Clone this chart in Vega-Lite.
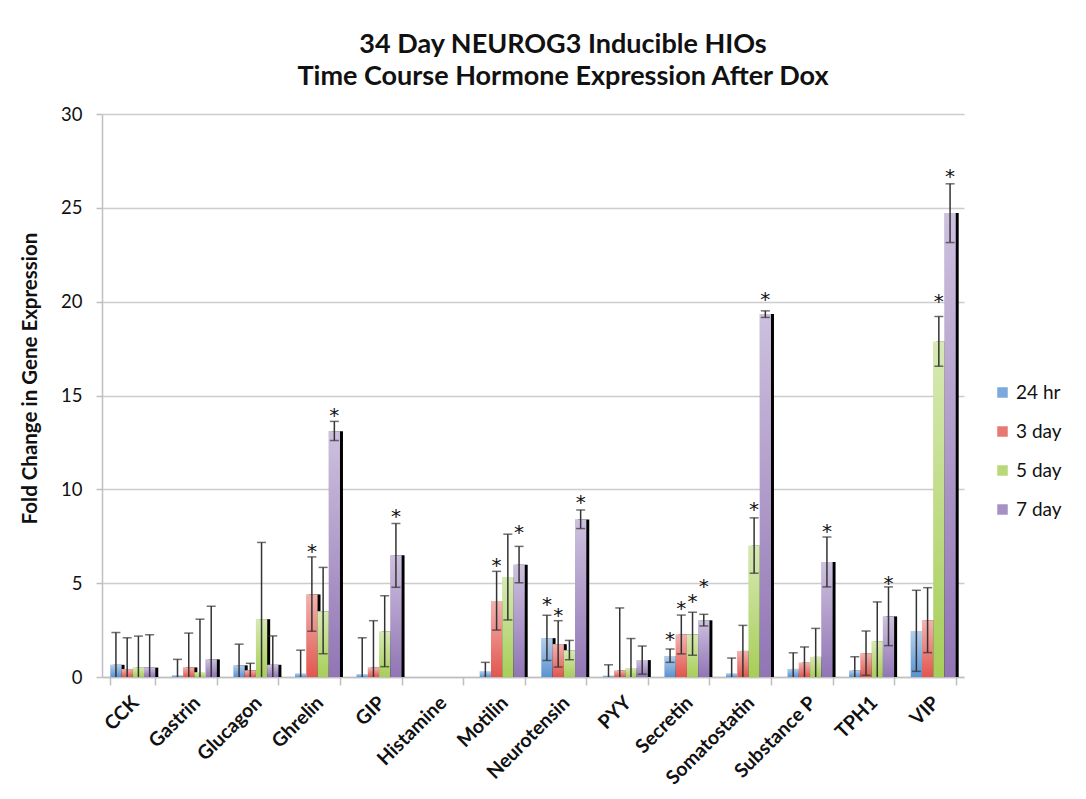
{
  "$schema": "https://vega.github.io/schema/vega-lite/v6.json",
  "width": 862,
  "height": 563,
  "autosize": {"type": "none"},
  "padding": {"left": 102, "top": 114, "right": 122, "bottom": 122},
  "background": "white",
  "config": {"font": "Lato", "view": {"stroke": null}},
  "title": {
    "text": ["34 Day NEUROG3 Inducible HIOs", "Time Course Hormone Expression After Dox"],
    "fontSize": 27,
    "fontWeight": "bold",
    "color": "#111111",
    "anchor": "middle",
    "dx": 30,
    "offset": 14,
    "lineHeight": 32
  },
  "data": {
    "values": [
      {"hormone": "CCK", "time": "24 hr", "value": 0.65, "hi": 2.37, "lo": 0, "star": null},
      {"hormone": "CCK", "time": "3 day", "value": 0.42, "hi": 2.09, "lo": 0, "star": null},
      {"hormone": "CCK", "time": "5 day", "value": 0.5, "hi": 2.18, "lo": 0, "star": null},
      {"hormone": "CCK", "time": "7 day", "value": 0.5, "hi": 2.25, "lo": 0, "star": null},
      {"hormone": "Gastrin", "time": "24 hr", "value": 0.09, "hi": 0.94, "lo": 0, "star": null},
      {"hormone": "Gastrin", "time": "3 day", "value": 0.51, "hi": 2.34, "lo": 0, "star": null},
      {"hormone": "Gastrin", "time": "5 day", "value": 0.25, "hi": 3.08, "lo": 0, "star": null},
      {"hormone": "Gastrin", "time": "7 day", "value": 0.94, "hi": 3.77, "lo": 0, "star": null},
      {"hormone": "Glucagon", "time": "24 hr", "value": 0.62, "hi": 1.75, "lo": 0, "star": null},
      {"hormone": "Glucagon", "time": "3 day", "value": 0.35, "hi": 0.73, "lo": 0, "star": null},
      {"hormone": "Glucagon", "time": "5 day", "value": 3.08, "hi": 7.17, "lo": 0, "star": null},
      {"hormone": "Glucagon", "time": "7 day", "value": 0.65, "hi": 2.19, "lo": 0, "star": null},
      {"hormone": "Ghrelin", "time": "24 hr", "value": 0.18, "hi": 1.43, "lo": 0, "star": null},
      {"hormone": "Ghrelin", "time": "3 day", "value": 4.4, "hi": 6.4, "lo": 2.44, "star": 6.93},
      {"hormone": "Ghrelin", "time": "5 day", "value": 3.5, "hi": 5.84, "lo": 1.24, "star": null},
      {"hormone": "Ghrelin", "time": "7 day", "value": 13.1, "hi": 13.62, "lo": 12.6, "star": 14.2},
      {"hormone": "GIP", "time": "24 hr", "value": 0.14, "hi": 2.09, "lo": 0, "star": null},
      {"hormone": "GIP", "time": "3 day", "value": 0.5, "hi": 3.0, "lo": 0, "star": null},
      {"hormone": "GIP", "time": "5 day", "value": 2.42, "hi": 4.33, "lo": 0.55, "star": null},
      {"hormone": "GIP", "time": "7 day", "value": 6.49, "hi": 8.18, "lo": 4.78, "star": 8.78},
      {"hormone": "Histamine", "time": "24 hr", "value": 0, "hi": null, "lo": null, "star": null},
      {"hormone": "Histamine", "time": "3 day", "value": 0, "hi": null, "lo": null, "star": null},
      {"hormone": "Histamine", "time": "5 day", "value": 0, "hi": null, "lo": null, "star": null},
      {"hormone": "Histamine", "time": "7 day", "value": 0, "hi": null, "lo": null, "star": null},
      {"hormone": "Motilin", "time": "24 hr", "value": 0.3, "hi": 0.78, "lo": 0, "star": null},
      {"hormone": "Motilin", "time": "3 day", "value": 4.05, "hi": 5.63, "lo": 2.5, "star": 6.18},
      {"hormone": "Motilin", "time": "5 day", "value": 5.33, "hi": 7.61, "lo": 3.04, "star": null},
      {"hormone": "Motilin", "time": "7 day", "value": 5.98, "hi": 6.96, "lo": 5.02, "star": 7.93},
      {"hormone": "Neurotensin", "time": "24 hr", "value": 2.07, "hi": 3.29, "lo": 0.88, "star": 4.1},
      {"hormone": "Neurotensin", "time": "3 day", "value": 1.75, "hi": 3.0, "lo": 0.53, "star": 3.52},
      {"hormone": "Neurotensin", "time": "5 day", "value": 1.42, "hi": 1.95, "lo": 0.92, "star": null},
      {"hormone": "Neurotensin", "time": "7 day", "value": 8.39, "hi": 8.9, "lo": 7.91, "star": 9.53},
      {"hormone": "PYY", "time": "24 hr", "value": 0.07, "hi": 0.65, "lo": 0, "star": null},
      {"hormone": "PYY", "time": "3 day", "value": 0.34, "hi": 3.68, "lo": 0, "star": null},
      {"hormone": "PYY", "time": "5 day", "value": 0.48, "hi": 2.05, "lo": 0, "star": null},
      {"hormone": "PYY", "time": "7 day", "value": 0.9, "hi": 1.65, "lo": 0.15, "star": null},
      {"hormone": "Secretin", "time": "24 hr", "value": 1.12, "hi": 1.49, "lo": 0.78, "star": 2.24},
      {"hormone": "Secretin", "time": "3 day", "value": 2.26, "hi": 3.3, "lo": 1.23, "star": 3.89},
      {"hormone": "Secretin", "time": "5 day", "value": 2.26, "hi": 3.45, "lo": 1.16, "star": 4.28},
      {"hormone": "Secretin", "time": "7 day", "value": 3.02, "hi": 3.34, "lo": 2.72, "star": 5.08},
      {"hormone": "Somatostatin", "time": "24 hr", "value": 0.18, "hi": 1.01, "lo": 0, "star": null},
      {"hormone": "Somatostatin", "time": "3 day", "value": 1.39, "hi": 2.75, "lo": 0, "star": null},
      {"hormone": "Somatostatin", "time": "5 day", "value": 7.0, "hi": 8.48, "lo": 5.53, "star": 9.15},
      {"hormone": "Somatostatin", "time": "7 day", "value": 19.34, "hi": 19.51, "lo": 19.16, "star": 20.35},
      {"hormone": "Substance P", "time": "24 hr", "value": 0.43, "hi": 1.29, "lo": 0, "star": null},
      {"hormone": "Substance P", "time": "3 day", "value": 0.76, "hi": 1.6, "lo": 0, "star": null},
      {"hormone": "Substance P", "time": "5 day", "value": 1.07, "hi": 2.59, "lo": 0, "star": null},
      {"hormone": "Substance P", "time": "7 day", "value": 6.13, "hi": 7.46, "lo": 4.8, "star": 7.98},
      {"hormone": "TPH1", "time": "24 hr", "value": 0.34, "hi": 1.08, "lo": 0, "star": null},
      {"hormone": "TPH1", "time": "3 day", "value": 1.26, "hi": 2.45, "lo": 0.09, "star": null},
      {"hormone": "TPH1", "time": "5 day", "value": 1.9, "hi": 4.0, "lo": 0, "star": null},
      {"hormone": "TPH1", "time": "7 day", "value": 3.23, "hi": 4.8, "lo": 1.67, "star": 5.21},
      {"hormone": "VIP", "time": "24 hr", "value": 2.45, "hi": 4.62, "lo": 0.3, "star": null},
      {"hormone": "VIP", "time": "3 day", "value": 3.02, "hi": 4.76, "lo": 1.3, "star": null},
      {"hormone": "VIP", "time": "5 day", "value": 17.86, "hi": 19.21, "lo": 16.56, "star": 20.24},
      {"hormone": "VIP", "time": "7 day", "value": 24.72, "hi": 26.28, "lo": 23.15, "star": 26.9}
    ]
  },
  "resolve": {"scale": {"xOffset": "independent"}},
  "encoding": {
    "x": {
      "field": "hormone",
      "type": "nominal",
      "sort": ["CCK", "Gastrin", "Glucagon", "Ghrelin", "GIP", "Histamine", "Motilin", "Neurotensin", "PYY", "Secretin", "Somatostatin", "Substance P", "TPH1", "VIP"],
      "title": null,
      "scale": {
        "domain": ["CCK", "Gastrin", "Glucagon", "Ghrelin", "GIP", "Histamine", "Motilin", "Neurotensin", "PYY", "Secretin", "Somatostatin", "Substance P", "TPH1", "VIP"],
        "paddingInner": 0.27,
        "paddingOuter": 0.135
      },
      "axis": {
        "labelAngle": -45,
        "labelFontSize": 19.5,
        "labelFontWeight": "bold",
        "labelColor": "#111111",
        "labelPadding": 8,
        "labelOffset": -4,
        "domainColor": "#bfbfbf",
        "domainWidth": 1.5,
        "tickColor": "#bfbfbf",
        "tickWidth": 1.5,
        "tickSize": 8,
        "tickBand": "extent",
        "grid": false
      }
    },
    "xOffset": {
      "field": "time",
      "type": "nominal",
      "scale": {"type": "band", "domain": ["24 hr", "3 day", "5 day", "7 day"], "paddingInner": 0, "paddingOuter": 0}
    }
  },
  "layer": [
    {
      "transform": [{"filter": "datum.value > 0.3"}],
      "mark": {"type": "bar", "color": "black"},
      "encoding": {
        "xOffset": {
          "field": "time",
          "type": "nominal",
          "scale": {"type": "band", "domain": ["24 hr", "3 day", "5 day", "7 day"], "paddingInner": 0, "paddingOuter": 0, "range": [3, 47.95]}
        },
        "y": {"field": "value", "type": "quantitative", "title": "Fold Change in Gene Expression", "scale": {"domain": [0, 30], "nice": false}}
      }
    },
    {
      "mark": {"type": "bar"},
      "encoding": {
        "y": {
          "field": "value",
          "type": "quantitative",
          "title": "Fold Change in Gene Expression",
          "scale": {"domain": [0, 30], "nice": false},
          "axis": {
            "values": [0, 5, 10, 15, 20, 25, 30],
            "labelFontSize": 18.5,
            "labelColor": "#111111",
            "labelPadding": 14,
            "tickSize": 6,
            "tickColor": "#bfbfbf",
            "tickWidth": 1.5,
            "domainColor": "#bfbfbf",
            "domainWidth": 1.5,
            "gridColor": "#cccccc",
            "gridWidth": 1.5,
            "titleFontSize": 20.5,
            "titleFontWeight": "bold",
            "titleColor": "#111111",
            "titlePadding": 20,
            "titleY": 264
          }
        },
        "color": {
          "field": "time",
          "type": "nominal",
          "sort": ["24 hr", "3 day", "5 day", "7 day"],
          "scale": {
            "domain": ["24 hr", "3 day", "5 day", "7 day"],
            "range": ["#5a93d2", "#e2564f", "#a7ce59", "#9175b5"]
          },
          "legend": {
            "title": null,
            "orient": "none",
            "legendX": 891,
            "legendY": 269,
            "symbolType": "square",
            "symbolSize": 110,
            "symbolStrokeWidth": 0,
            "symbolOpacity": 0.8,
            "labelFontSize": 19,
            "labelColor": "#111111",
            "labelOffset": 4,
            "rowPadding": 19
          }
        }
      }
    },
    {
      "mark": {
        "type": "bar",
        "color": {
          "gradient": "linear",
          "x1": 0, "y1": 0, "x2": 0, "y2": 1,
          "stops": [
            {"offset": 0, "color": "rgba(255,255,255,0.55)"},
            {"offset": 1, "color": "rgba(255,255,255,0)"}
          ]
        }
      },
      "encoding": {
        "y": {"field": "value", "type": "quantitative", "title": "Fold Change in Gene Expression"}
      }
    },
    {
      "transform": [{"filter": "datum.hi != null"}],
      "mark": {"type": "rule", "color": "#333333", "strokeWidth": 1.5},
      "encoding": {
        "y": {"field": "hi", "type": "quantitative", "title": "Fold Change in Gene Expression"},
        "y2": {"field": "lo"}
      }
    },
    {
      "transform": [{"filter": "datum.hi != null"}],
      "mark": {"type": "tick", "color": "#333333", "thickness": 1.5, "size": 9, "orient": "horizontal"},
      "encoding": {
        "y": {"field": "hi", "type": "quantitative", "title": "Fold Change in Gene Expression"}
      }
    },
    {
      "transform": [{"filter": "datum.lo > 0"}],
      "mark": {"type": "tick", "color": "#333333", "thickness": 1.5, "size": 9, "orient": "horizontal"},
      "encoding": {
        "y": {"field": "lo", "type": "quantitative", "title": "Fold Change in Gene Expression"}
      }
    },
    {
      "transform": [{"filter": "datum.star != null"}],
      "mark": {"type": "text", "font": "DejaVu Sans", "fontSize": 20, "color": "#111111", "baseline": "alphabetic", "dy": 11},
      "encoding": {
        "y": {"field": "star", "type": "quantitative", "title": "Fold Change in Gene Expression"},
        "text": {"value": "*"}
      }
    }
  ]
}
